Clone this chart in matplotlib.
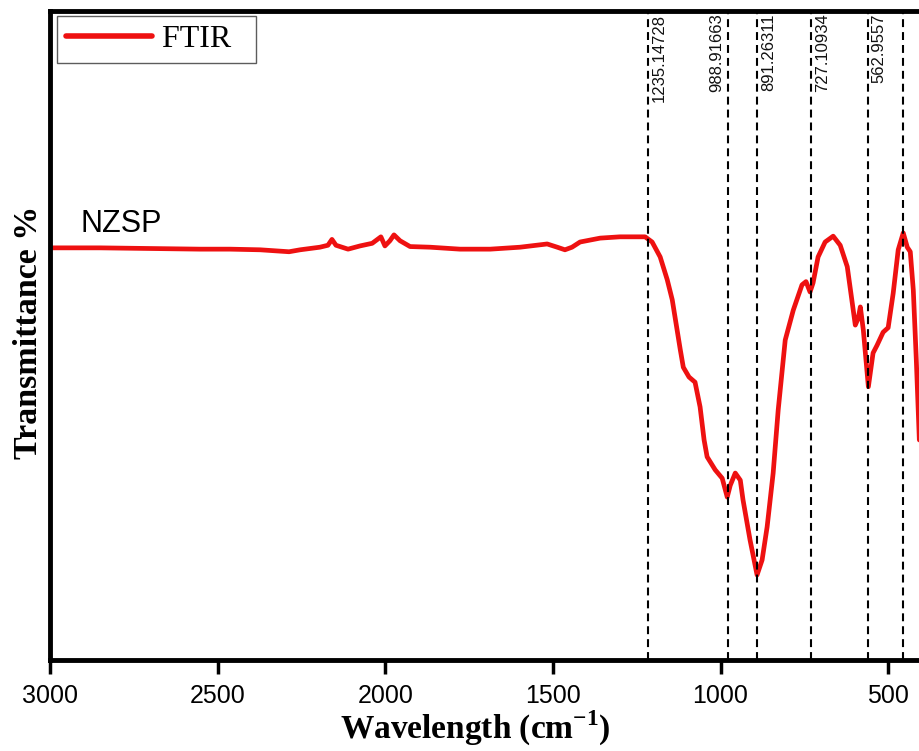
import matplotlib
matplotlib.use("Agg")
import matplotlib.pyplot as plt

# === FTIR spectrum (wavenumber cm-1, transmittance a.u.)
wavenumber = [3000, 2851, 2702, 2552, 2463, 2373, 2287, 2254, 2195, 2171,
              2159, 2147, 2111, 2075, 2039, 2013, 2001, 1986, 1974, 1956,
              1926, 1866, 1777, 1687, 1598, 1517, 1487, 1464, 1443, 1419,
              1359, 1300, 1225, 1204, 1180, 1159, 1144, 1120, 1111, 1094,
              1076, 1061, 1049, 1040, 1016, 995, 980, 971, 956, 941,
              933, 912, 891, 876, 861, 843, 828, 807, 783, 757,
              745, 733, 724, 709, 688, 664, 643, 622, 598, 589,
              583, 574, 559, 545, 533, 515, 500, 485, 470, 455,
              443, 434, 425, 416, 407]
transmittance = [63.5, 63.5, 63.4, 63.3, 63.3, 63.2, 62.9, 63.2, 63.6, 63.9,
                 64.8, 63.9, 63.3, 63.8, 64.2, 65.2, 63.8, 64.6, 65.5, 64.6,
                 63.7, 63.6, 63.3, 63.3, 63.6, 64.1, 63.6, 63.2, 63.6, 64.4,
                 65.0, 65.2, 65.2, 64.4, 62.1, 58.6, 55.5, 47.8, 45.1, 43.6,
                 42.8, 39.0, 33.9, 31.3, 29.3, 28.0, 25.1, 26.9, 28.8, 27.7,
                 24.7, 18.5, 13.1, 15.4, 20.5, 28.8, 38.5, 49.3, 53.9, 57.8,
                 58.3, 56.7, 58.1, 62.1, 64.4, 65.3, 63.9, 60.6, 51.6, 52.7,
                 54.4, 50.8, 42.1, 47.3, 48.5, 50.5, 51.2, 56.5, 63.2, 65.8,
                 63.6, 62.9, 57.0, 46.2, 33.9]

# === Marked peaks (line position as drawn, and the printed label)
peak_pos = [1217, 977, 891.3, 730.5, 561, 456]
peak_labels = ["1235.14728", "988.91663", "891.26311", "727.10934", "562.9557", ""]
label_side = [1, -1, 1, 1, 1, 1]

xticks = [3000, 2500, 2000, 1500, 1000, 500]

serif = ["Liberation Serif", "DejaVu Serif"]
sans = ["Liberation Sans", "DejaVu Sans"]
plt.rcParams['font.family'] = sans
plt.rcParams['mathtext.fontset'] = 'custom'
plt.rcParams['mathtext.rm'] = 'Liberation Serif:bold'

fig = plt.figure(figsize=(9.19, 7.51), dpi=100)
ax = fig.add_axes([0.0544, 0.1212, 0.9456, 0.8642])

ax.plot(wavenumber, transmittance, color="#ee1111", lw=3.4, label="FTIR  ",
        solid_joinstyle="round", solid_capstyle="round")

for pos, lab, side in zip(peak_pos, peak_labels, label_side):
    ax.axvline(pos, color="black", lw=1.5, linestyle=(0, (3.8, 2.4)))
    if lab:
        ax.annotate(lab, xy=(pos, 1), xycoords=("data", "axes fraction"),
                    xytext=(3 * side, -2), textcoords="offset points",
                    rotation=90, va="top", ha="left" if side > 0 else "right",
                    fontsize=12, family=sans, color="#111111")

ax.text(2910, 66.0, "NZSP", fontsize=22, family=sans, va="baseline", ha="left")

ax.set_xlim(3000, 408)
ax.set_ylim(0, 100)
ax.set_xticks(xticks)
ax.set_xticklabels([str(t) for t in xticks])
ax.set_yticks([])

for side in ["top", "bottom", "left"]:
    ax.spines[side].set_linewidth(3.5)
ax.spines["right"].set_visible(False)
ax.tick_params(axis="x", direction="out", length=10, width=2.5, pad=7,
               labelsize=18, top=False)

ax.set_xlabel(r"Wavelength (cm$^{\mathregular{-1}}$)", fontsize=24,
              fontweight="bold", family=serif)
ax.xaxis.set_label_coords(0.489, -0.076)
ax.set_ylabel("Transmittance %", fontsize=24.5, fontweight="bold", family=serif)
ax.yaxis.set_label_coords(-0.007, 0.505)

leg = ax.legend(loc="upper left", bbox_to_anchor=(0.008, 0.992), borderaxespad=0,
                prop={"family": serif, "size": 23}, frameon=True, fancybox=False,
                handlelength=2.7, handletextpad=0.3, borderpad=0.28)
leg.get_frame().set_edgecolor("#333333")
leg.get_frame().set_linewidth(1.0)
leg.get_lines()[0].set_linewidth(4)

plt.savefig("out.png", dpi=100)
